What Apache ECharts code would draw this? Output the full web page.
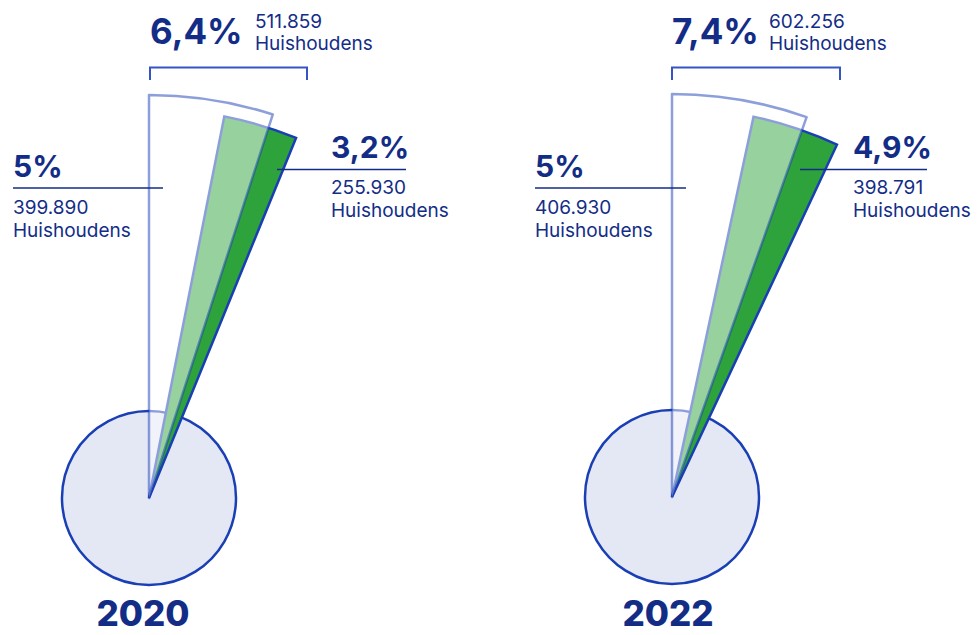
<!DOCTYPE html>
<html><head><meta charset="utf-8">
<script src="https://cdn.jsdelivr.net/npm/echarts@6/dist/echarts.min.js"></script>
<style>html,body{margin:0;padding:0;background:#fff}#c{width:978px;height:635px}</style>
</head><body><div id="c"></div>
<script>
// ---- data ----
const years = ['2020', '2022'];
const totalPct = ['6,4%', '7,4%'];
const totalHouseholds = ['511.859', '602.256'];
const basePct = ['5%', '5%'];
const baseHouseholds = ['399.890', '406.930'];
const newPct = ['3,2%', '4,9%'];
const newHouseholds = ['255.930', '398.791'];
// wedge extents as drawn, in % of a full circle
const baseWedgeEnd = [4.97, 5.42];
const newWedgeStart = [3.10, 3.36];
const newWedgeEnd = [6.17, 6.97];
const fullCircle = 100;
const unitLabel = 'Huishoudens';

// ---- layout (positions only) ----
const layout = [
  {cx: 149, cy: 498, top: [150, 255, 307], left: [13, 163], right: [331, 277, 406], year: 143},
  {cx: 672, cy: 497, top: [672, 769, 840], left: [535, 686], right: [853, 800, 927], year: 668}
];
const NAVY = '#132d87';
const BLUE = '#1a3fb5';
const FONT = 'Inter';

const series = [];
const graphics = [];
const T = 'transparent';
years.forEach((yr, i) => {
  const L = layout[i];
  const c = [L.cx, L.cy];
  series.push({
    type: 'pie', center: c, radius: 87, silent: true, startAngle: 90, clockwise: true,
    label: {show: false}, labelLine: {show: false}, animation: false,
    data: [{value: fullCircle, itemStyle: {color: '#e4e7f4', borderColor: BLUE, borderWidth: 2.5}}]
  });
  series.push({
    type: 'pie', center: c, radius: 389, silent: true, startAngle: 90, clockwise: true,
    label: {show: false}, labelLine: {show: false}, animation: false,
    data: [
      {value: newWedgeStart[i], itemStyle: {color: T, borderWidth: 0}},
      {value: newWedgeEnd[i] - newWedgeStart[i], itemStyle: {color: '#2ea23b', borderColor: BLUE, borderWidth: 2.5, borderJoin: 'miter', borderMiterLimit: 3}},
      {value: fullCircle - newWedgeEnd[i], itemStyle: {color: T, borderWidth: 0}}
    ]
  });
  series.push({
    type: 'pie', center: c, radius: 403, silent: true, startAngle: 90, clockwise: true,
    label: {show: false}, labelLine: {show: false}, animation: false,
    data: [
      {value: baseWedgeEnd[i], itemStyle: {color: 'rgba(255,255,255,0.5)', borderColor: 'rgba(26,63,181,0.5)', borderWidth: 2.5}},
      {value: fullCircle - baseWedgeEnd[i], itemStyle: {color: T, borderWidth: 0}}
    ]
  });
  const txt = (x, y, text, size, weight) => ({
    type: 'text', x, y, z: 100,
    style: {text, font: `${weight} ${size}px ${FONT}`, fill: NAVY, verticalAlign: 'middle', align: 'left'}
  });
  // top total label + bracket
  graphics.push(txt(L.top[0], 31, totalPct[i], 35, 700));
  graphics.push(txt(L.top[1], 21, totalHouseholds[i], 19, 400));
  graphics.push(txt(L.top[1], 43.5, unitLabel, 19, 400));
  graphics.push({type: 'polyline', z: 100, shape: {points: [[L.top[0], 80], [L.top[0], 67.5], [L.top[2], 67.5], [L.top[2], 80]]},
    style: {stroke: '#3655c4', fill: null, lineWidth: 2}});
  // left base label
  graphics.push(txt(L.left[0], 165.5, basePct[i], 30, 700));
  graphics.push({type: 'line', z: 100, shape: {x1: L.left[0], y1: 188, x2: L.left[1], y2: 188}, style: {stroke: NAVY, lineWidth: 1.3}});
  graphics.push(txt(L.left[0], 207.5, baseHouseholds[i], 19, 400));
  graphics.push(txt(L.left[0], 230, unitLabel, 19, 400));
  // right new label
  graphics.push(txt(L.right[0], 146.5, newPct[i], 30, 700));
  graphics.push({type: 'line', z: 100, shape: {x1: L.right[1], y1: 169.5, x2: L.right[2], y2: 169.5}, style: {stroke: NAVY, lineWidth: 1.3}});
  graphics.push(txt(L.right[0], 187, newHouseholds[i], 19, 400));
  graphics.push(txt(L.right[0], 210, unitLabel, 19, 400));
  // year
  graphics.push({type: 'text', x: L.year, y: 613, z: 100,
    style: {text: yr, font: `800 35px ${FONT}`, fill: NAVY, verticalAlign: 'middle', align: 'center'}});
});

const chart = echarts.init(document.getElementById('c'), null, {renderer: 'svg'});
chart.setOption({animation: false, series, graphic: graphics});
</script></body></html>
